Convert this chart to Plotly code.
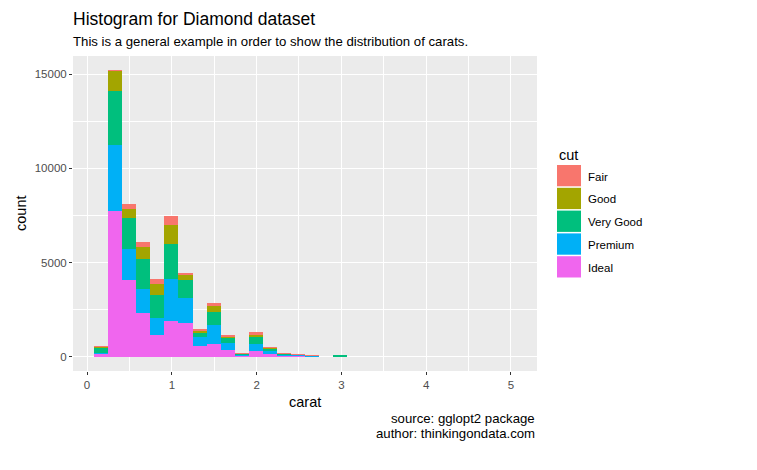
import plotly.graph_objects as go

# ---------------- data ----------------
cuts = ["Ideal", "Premium", "Very Good", "Good", "Fair"]  # stacking order bottom -> top
legend_order = ["Fair", "Good", "Very Good", "Premium", "Ideal"]
colors = {"Fair": "#F8766D", "Good": "#A3A500", "Very Good": "#00BF7D",
          "Premium": "#00B0F6", "Ideal": "#F066EE"}

# histogram binning: 30 bins over carat range 0.2 .. 5.01
carat_min, carat_max, n_bins = 0.2, 5.01, 30

fair = [5, 30, 265, 247, 229, 477, 20, 40, 176, 40, 5, 123, 20, 10, 5, 3, 0, 0,
        0, 0, 0, 0, 0, 0, 0, 0, 0, 0, 0, 0]
good = [15, 1060, 494, 652, 617, 1005, 318, 120, 317, 66, 15, 141, 40, 20, 10, 5, 0, 0,
        0, 0, 0, 0, 0, 0, 0, 0, 0, 0, 0, 0]
very_good = [300, 2870, 1622, 1552, 1200, 1852, 917, 230, 688, 282, 60, 335, 106, 50, 20, 15, 0, 22,
             0, 0, 0, 0, 0, 0, 0, 0, 0, 0, 0, 0]
premium = [20, 3530, 1676, 1323, 934, 2222, 1375, 490, 1005, 353, 50, 406, 204, 54, 50, 45, 0, 20,
           0, 0, 0, 0, 0, 0, 0, 0, 0, 0, 0, 0]
ideal = [190, 7710, 4056, 2293, 1129, 1887, 1764, 547, 688, 370, 64, 282, 141, 60, 55, 20, 0, 8,
         0, 0, 0, 0, 0, 0, 0, 0, 0, 0, 0, 0]
series = {"Fair": fair, "Good": good, "Very Good": very_good, "Premium": premium, "Ideal": ideal}

x_ticks = [0, 1, 2, 3, 4, 5]
y_ticks = [0, 5000, 10000, 15000]

title_text = "Histogram for Diamond dataset"
subtitle_text = "This is a general example in order to show the distribution of carats."
caption_lines = ["source: gglopt2 package", "author: thinkingondata.com"]

# ---------------- bins ----------------
bw = (carat_max - carat_min) / (n_bins - 1)
origin = bw / 2  # boundary like ggplot2
centers = [origin + bw * (i + 0.5) for i in range(n_bins)]
x_lo = origin
x_hi = origin + bw * n_bins
xpad = (x_hi - x_lo) * 0.05
totals = [sum(series[c][i] for c in cuts) for i in range(n_bins)]
ymax = max(totals)

# ---------------- layout geometry ----------------
W, H = 757, 470
ML, MR, MT, MB = 73, 220, 56, 99
PW, PH = W - ML - MR, H - MT - MB
FONT = "Liberation Sans, Arial, Helvetica, sans-serif"


def px(x):
    return (x - ML) / PW


def py(y):
    return (H - MB - y) / PH


fig = go.Figure()
for c in cuts:
    fig.add_trace(go.Bar(
        x=centers, y=series[c], width=[bw] * n_bins, name=c,
        marker=dict(color=colors[c], line=dict(width=0)),
        showlegend=False,
    ))

axis_common = dict(
    showgrid=True, gridcolor="white", gridwidth=1.1,
    zeroline=False, showline=False,
    ticks="outside", ticklen=3, tickwidth=1, tickcolor="#333333",
    tickfont=dict(family=FONT, size=11.5, color="#4D4D4D"),
)

fig.update_layout(
    width=W, height=H,
    margin=dict(l=ML, r=MR, t=MT, b=MB, pad=0),
    barmode="stack", bargap=0,
    plot_bgcolor="#EBEBEB", paper_bgcolor="white",
    font=dict(family=FONT, color="black"),
    xaxis=dict(range=[x_lo - xpad, x_hi + xpad], tickvals=x_ticks,
               minor=dict(dtick=0.5, tick0=0, showgrid=True, gridcolor="white", gridwidth=0.55, ticks=""),
               **axis_common),
    yaxis=dict(range=[-0.05 * ymax, 1.05 * ymax], tickvals=y_ticks, tickformat="d",
               minor=dict(dtick=2500, tick0=0, showgrid=True, gridcolor="white", gridwidth=0.55, ticks=""),
               **axis_common),
)

ann = []
ann.append(dict(text=title_text, x=px(71), y=py(19), xanchor="left", yanchor="middle",
                font=dict(size=17.5, color="black")))
ann.append(dict(text=subtitle_text, x=px(71), y=py(41.2), xanchor="left", yanchor="middle",
                font=dict(size=13.2, color="black")))
ann.append(dict(text="carat", x=px(ML + PW / 2), y=py(402), xanchor="center", yanchor="middle",
                font=dict(size=14.5, color="black")))
ann.append(dict(text="count", x=px(20.5), y=py(MT + PH / 2), xanchor="center", yanchor="middle",
                textangle=-90, font=dict(size=14.5, color="black")))
for i, line in enumerate(caption_lines):
    ann.append(dict(text=line, x=px(ML + PW), y=py(418.5 + 14.8 * i), xanchor="right", yanchor="middle",
                    font=dict(size=13.2, color="black")))

# legend (manual, ggplot style)
ann.append(dict(text="cut", x=px(557), y=py(154.5), xanchor="left", yanchor="middle",
                font=dict(size=14.5, color="black")))
shapes = []
for k, c in enumerate(legend_order):
    top = 165 + 22.8 * k
    shapes.append(dict(type="rect", xref="paper", yref="paper",
                       x0=px(557), x1=px(581), y0=py(top + 21.3), y1=py(top),
                       fillcolor=colors[c], line=dict(width=0), layer="above"))
    ann.append(dict(text=c, x=px(585.5), y=py(top + 11.5), xanchor="left", yanchor="middle",
                    font=dict(size=11.5, color="black")))

for a in ann:
    a.update(xref="paper", yref="paper", showarrow=False)
fig.update_layout(annotations=ann, shapes=shapes)

fig.write_html("out.html")
